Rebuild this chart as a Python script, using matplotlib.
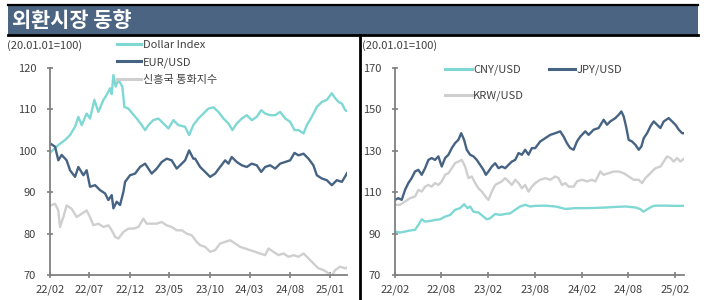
import pandas as pd
import matplotlib
matplotlib.use("Agg")
import matplotlib.pyplot as plt
import matplotlib.dates as mdates
from matplotlib.patches import Rectangle
from matplotlib.lines import Line2D

plt.rcParams['font.family'] = ['Noto Sans CJK KR', 'DejaVu Sans']

# month offsets from 2022-02-01, values indexed to 20.01.01 = 100
dxy_m = [0, 1.04, 1.88, 2.5, 3.13, 3.54, 3.96, 4.58, 5.0, 5.54, 6.04, 6.67, 7.08, 7.5, 7.71,
         7.92, 8.2, 8.54, 9.04, 9.29, 9.79, 10.3, 10.83, 11.46, 11.88, 12.3, 12.9, 13.54,
         14.17, 14.79, 15.42, 16.04, 16.88, 17.38, 17.9, 18.54, 18.96, 19.79, 20.42, 21.04,
         21.67, 22.29, 22.79, 23.33, 23.96, 24.58, 25.2, 25.83, 26.38, 26.88, 27.5, 28.13,
         28.75, 29.38, 30.0, 30.54, 31.04, 31.67, 32.08, 32.7, 33.33, 33.96, 34.58, 35.2,
         35.63, 36.04, 36.46, 36.88, 37.1]
dxy = [99.5, 101.4, 102.6, 103.8, 105.8, 108.2, 106.2, 109.0, 107.8, 112.3, 109.4, 112.3,
       113.5, 115.1, 113.7, 118.3, 115.5, 117.1, 115.5, 110.6, 110.2, 109.0, 107.8, 106.2,
       105.0, 106.2, 107.4, 107.8, 106.6, 105.4, 107.4, 106.2, 105.8, 103.8, 106.2, 107.8,
       108.6, 110.2, 110.5, 109.4, 107.8, 106.6, 105.0, 106.6, 107.8, 108.6, 107.4, 108.2,
       109.8, 109.0, 108.6, 108.6, 109.4, 107.8, 107.0, 105.0, 105.0, 104.2, 106.2, 108.2,
       110.6, 111.8, 112.3, 113.9, 112.7, 111.8, 111.4, 109.8, 109.6]

eur_m = [0, 0.63, 1.04, 1.46, 2.08, 2.5, 3.13, 3.54, 4.17, 4.58, 5.0, 5.63, 6.25, 6.88,
         7.29, 7.71, 7.92, 8.33, 8.75, 9.17, 9.38, 10.0, 10.63, 11.25, 11.88, 12.7, 13.33,
         13.96, 14.58, 15.2, 15.83, 16.46, 16.88, 17.38, 17.9, 18.13, 18.75, 19.38, 20.0,
         20.63, 21.25, 21.88, 22.29, 22.7, 23.33, 23.96, 24.58, 25.2, 25.83, 26.38, 26.88,
         27.5, 28.13, 28.75, 29.38, 30.0, 30.54, 31.04, 31.67, 32.29, 32.9, 33.33, 33.96,
         34.58, 35.2, 35.83, 36.46, 36.96, 37.1]
eur = [101.8, 101.0, 97.7, 99.0, 97.7, 95.3, 93.7, 96.1, 94.1, 95.3, 91.3, 91.7, 90.5,
       89.7, 88.1, 89.3, 86.1, 87.7, 86.9, 90.1, 92.5, 94.1, 94.5, 96.1, 96.9, 94.5, 95.7,
       97.3, 98.1, 97.7, 95.7, 96.9, 97.7, 100.1, 98.1, 98.1, 96.1, 94.9, 93.7, 94.5, 96.1,
       97.7, 96.9, 98.5, 97.3, 96.5, 96.1, 96.9, 96.5, 94.9, 96.1, 96.5, 95.7, 96.9, 97.3,
       97.7, 99.5, 98.9, 99.3, 98.1, 96.5, 94.1, 93.3, 92.9, 91.7, 92.9, 92.5, 94.1, 94.6]

em_m = [0, 0.63, 1.04, 1.25, 1.67, 2.08, 2.7, 3.33, 3.96, 4.58, 5.0, 5.42, 6.04, 6.67,
        7.29, 7.71, 8.13, 8.54, 9.17, 9.79, 10.42, 11.04, 11.67, 12.08, 12.7, 13.33, 13.96,
        14.58, 15.2, 15.83, 16.46, 17.08, 17.7, 18.33, 18.75, 19.38, 20.0, 20.63, 21.25,
        21.88, 22.5, 23.13, 23.75, 24.38, 25.0, 25.63, 26.25, 26.88, 27.29, 27.9, 28.54,
        29.17, 29.79, 30.42, 31.04, 31.67, 32.29, 32.9, 33.54, 34.17, 34.79, 35.2, 35.63,
        36.25, 36.88, 37.1]
em = [86.8, 87.2, 85.6, 81.6, 84.0, 86.8, 86.0, 84.0, 84.8, 85.6, 84.0, 82.0, 82.4, 81.6,
      82.0, 80.8, 79.2, 78.8, 80.4, 81.2, 81.2, 81.6, 83.6, 82.4, 82.4, 82.4, 82.8, 82.0,
      81.6, 80.8, 80.8, 80.0, 79.6, 78.0, 77.2, 76.8, 75.6, 76.0, 77.6, 78.0, 78.4, 77.6,
      76.8, 76.4, 76.0, 75.6, 75.2, 74.8, 76.4, 75.6, 74.8, 75.2, 74.4, 74.8, 74.4, 75.2,
      74.0, 72.8, 71.6, 71.2, 70.4, 69.8, 71.2, 72.0, 71.6, 71.8]

cny_m = [0, 0.64, 1.29, 1.93, 2.57, 3.0, 3.43, 3.86, 4.5, 5.14, 5.79, 6.43, 7.07, 7.71,
         8.36, 8.87, 9.3, 9.64, 10.07, 10.71, 11.36, 11.79, 12.21, 12.86, 13.5, 14.14, 14.79,
         15.43, 16.07, 16.71, 17.36, 18.0, 19.3, 20.6, 21.9, 23.1, 24.4, 25.7, 27.0, 28.3,
         29.6, 30.9, 31.5, 31.9, 32.4, 33.0, 33.4, 34.7, 36.0, 37.2]
cny = [91.0, 90.5, 91.0, 91.5, 91.8, 94.2, 96.9, 95.8, 96.1, 96.6, 96.9, 98.2, 99.0,
       101.5, 102.3, 104.2, 102.3, 103.1, 100.6, 100.2, 98.2, 96.9, 97.4, 99.5, 99.0, 99.5,
       99.8, 101.5, 103.1, 103.9, 103.1, 103.4, 103.5, 103.1, 101.9, 102.3, 102.3, 102.4,
       102.6, 102.9, 103.1, 102.6, 101.8, 100.6, 101.8, 103.1, 103.5, 103.5, 103.4, 103.4]

jpy_m = [0, 0.43, 0.86, 1.29, 1.71, 2.14, 2.57, 3.0, 3.43, 3.86, 4.29, 4.71, 5.14, 5.57,
         6.0, 6.43, 6.86, 7.29, 7.71, 8.14, 8.5, 8.87, 9.21, 9.64, 10.07, 10.5, 10.93, 11.36,
         11.66, 12.0, 12.43, 12.86, 13.29, 13.71, 14.14, 14.57, 15.0, 15.43, 15.86, 16.29,
         16.71, 17.14, 17.57, 18.0, 18.64, 19.29, 19.93, 20.57, 21.21, 21.64, 22.07, 22.5,
         22.93, 23.36, 23.79, 24.43, 24.86, 25.5, 26.14, 26.79, 27.21, 27.64, 28.29, 28.71,
         29.06, 29.36, 29.66, 30.0, 30.43, 30.86, 31.29, 31.63, 31.93, 32.36, 32.79, 33.21,
         33.64, 34.07, 34.5, 35.14, 35.57, 36.0, 36.43, 36.86, 37.2]
jpy = [106.3, 107.1, 106.3, 111.1, 114.4, 116.8, 120.0, 120.8, 118.4, 121.6, 125.6, 126.5,
       125.6, 127.3, 122.4, 126.5, 128.1, 131.3, 133.7, 135.3, 138.5, 135.3, 130.5, 128.1,
       127.3, 125.6, 123.2, 120.8, 118.4, 120.0, 122.4, 124.0, 121.6, 122.4, 121.6, 123.2,
       124.8, 125.6, 128.9, 128.1, 130.5, 128.1, 131.3, 131.3, 134.5, 136.1, 137.7, 138.5,
       139.4, 136.9, 133.7, 131.3, 130.5, 134.5, 136.9, 139.4, 137.7, 140.2, 141.0, 145.0,
       142.6, 144.2, 145.8, 147.4, 149.0, 146.6, 141.8, 135.3, 134.5, 132.9, 130.5, 132.1,
       136.1, 138.5, 141.8, 144.2, 142.6, 141.0, 144.2, 145.8, 144.2, 142.6, 140.2, 138.5,
       138.5]

krw_m = [0, 0.64, 1.29, 1.93, 2.57, 3.0, 3.43, 3.86, 4.29, 4.71, 5.14, 5.57, 6.0, 6.43,
         6.86, 7.29, 7.71, 8.14, 8.57, 9.0, 9.43, 9.86, 10.29, 10.71, 11.14, 11.79, 12.0,
         12.43, 12.86, 13.29, 13.71, 14.14, 14.57, 15.0, 15.43, 15.86, 16.29, 16.71, 17.14,
         17.57, 18.0, 18.64, 19.29, 19.93, 20.57, 21.0, 21.43, 21.86, 22.29, 22.93, 23.36,
         24.0, 24.64, 25.29, 25.71, 26.36, 26.79, 27.43, 28.07, 28.71, 29.36, 30.0, 30.64,
         31.29, 31.71, 32.14, 32.79, 33.43, 34.07, 34.5, 34.93, 35.36, 35.79, 36.21, 36.64,
         37.2]
krw = [103.9, 103.9, 105.5, 107.1, 107.9, 111.1, 110.3, 112.7, 113.5, 112.7, 114.4, 113.5,
       115.2, 118.4, 119.2, 121.6, 124.0, 124.8, 125.6, 122.4, 116.8, 117.6, 114.4, 111.9,
       110.3, 107.1, 106.3, 110.3, 113.5, 114.4, 115.2, 116.8, 115.2, 113.5, 116.0, 114.4,
       111.9, 113.5, 110.3, 112.7, 114.4, 116.0, 116.8, 116.0, 117.6, 116.8, 113.5, 114.4,
       112.7, 112.7, 115.2, 116.0, 115.2, 116.0, 115.2, 120.0, 118.4, 119.2, 120.0, 120.0,
       119.2, 117.6, 116.0, 116.0, 114.4, 116.8, 119.2, 121.6, 122.4, 124.8, 127.3, 126.5,
       124.8, 126.5, 124.8, 126.5]

left_ticks = ['2022-02', '2022-07', '2022-12', '2023-05', '2023-10', '2024-03', '2024-08', '2025-01']
right_ticks = ['2022-02', '2022-08', '2023-02', '2023-08', '2024-02', '2024-08', '2025-02']

teal = '#7fd8d3'
navy = '#466383'
grey = '#cfcfcf'
axis_grey = '#808080'
text_col = '#404040'

start = pd.Timestamp('2022-02-01')


def to_dates(months):
    return [start + pd.Timedelta(days=m * 30.44) for m in months]


def style_axis(ax, ticks, ylim, yticks):
    for side in ['top', 'right']:
        ax.spines[side].set_visible(False)
    for side in ['left', 'bottom']:
        ax.spines[side].set_color(axis_grey)
        ax.spines[side].set_linewidth(1.3)
    ax.set_ylim(*ylim)
    ax.set_yticks(yticks)
    ax.set_xlim(start, start + pd.Timedelta(days=37.1 * 30.44))
    ax.set_xticks([pd.Timestamp(t) for t in ticks])
    ax.xaxis.set_major_formatter(mdates.DateFormatter('%y/%m'))
    ax.tick_params(axis='both', direction='inout', length=4, width=1.2, color=axis_grey,
                   labelsize=8, labelcolor=text_col)
    ax.tick_params(axis='y', pad=8)
    ax.tick_params(axis='x', pad=5)
    ax.set_facecolor('none')


fig = plt.figure(figsize=(7.08, 3.0), dpi=100)

# title bar
fig.patches.append(Rectangle((8 / 708, 1 - 35 / 300), 690 / 708, 30 / 300,
                             transform=fig.transFigure, facecolor='#4a6482',
                             edgecolor='none', zorder=0))
fig.add_artist(Line2D([8 / 708, 698 / 708], [1 - 5 / 300, 1 - 5 / 300],
                      color='black', lw=1.6, transform=fig.transFigure))
fig.add_artist(Line2D([8 / 708, 698 / 708], [1 - 34.5 / 300, 1 - 34.5 / 300],
                      color='black', lw=2, transform=fig.transFigure))
fig.add_artist(Line2D([359.5 / 708, 359.5 / 708], [0, 1 - 35 / 300],
                      color='black', lw=2, transform=fig.transFigure))
fig.text(12 / 708, 1 - 20.5 / 300, '외환시장 동향', color='white', fontsize=15,
         fontweight='bold', va='center', ha='left')

# left chart
ax1 = fig.add_axes([50 / 708, 25 / 300, 297 / 708, 207 / 300])
ax1.plot(to_dates(dxy_m), dxy, color=teal, lw=1.7, label='Dollar Index')
ax1.plot(to_dates(eur_m), eur, color=navy, lw=1.7, label='EUR/USD')
ax1.plot(to_dates(em_m), em, color=grey, lw=1.7, label='신흥국 통화지수')
style_axis(ax1, left_ticks, (70, 120), [70, 80, 90, 100, 110, 120])
leg1 = ax1.legend(loc='upper left', bbox_to_anchor=(117 / 708, 1 - 39.5 / 300),
                  bbox_transform=fig.transFigure, frameon=False, fontsize=8,
                  handlelength=2.2, handletextpad=0.15, labelspacing=0.68,
                  borderpad=0, borderaxespad=0, labelcolor=text_col)
for line in leg1.get_lines():
    line.set_linewidth(2.2)
leg1.set_zorder(5)
fig.text(7 / 708, 1 - 46 / 300, '(20.01.01=100)', fontsize=8, color=text_col,
         va='center', ha='left')

# right chart
ax2 = fig.add_axes([395 / 708, 25 / 300, 289 / 708, 207 / 300])
l_cny, = ax2.plot(to_dates(cny_m), cny, color=teal, lw=1.7, label='CNY/USD')
l_jpy, = ax2.plot(to_dates(jpy_m), jpy, color=navy, lw=1.7, label='JPY/USD')
l_krw, = ax2.plot(to_dates(krw_m), krw, color=grey, lw=1.7, label='KRW/USD')
style_axis(ax2, right_ticks, (70, 170), [70, 90, 110, 130, 150, 170])
leg2 = ax2.legend(handles=[l_cny, l_krw, l_jpy], loc='upper left',
                  bbox_to_anchor=(445 / 708, 1 - 64.5 / 300),
                  bbox_transform=fig.transFigure, frameon=False, fontsize=8, ncol=2,
                  handlelength=2.4, handletextpad=0.15, labelspacing=1.4,
                  columnspacing=2.2, borderpad=0, borderaxespad=0, labelcolor=text_col)
for line in leg2.get_lines():
    line.set_linewidth(2.2)
fig.text(362 / 708, 1 - 46 / 300, '(20.01.01=100)', fontsize=8, color=text_col,
         va='center', ha='left')

fig.savefig('out.png', dpi=100)
